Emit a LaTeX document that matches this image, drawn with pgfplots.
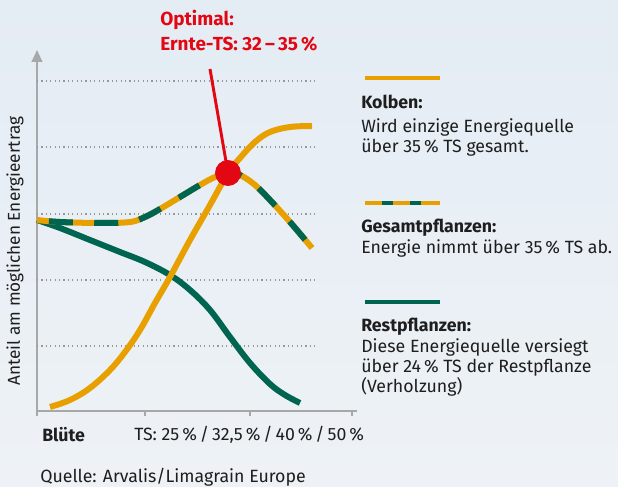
\documentclass[border=0pt]{standalone}
\usepackage{fontspec}
\setmainfont{Fira Sans}
\usepackage{pgfplots}
\pgfplotsset{compat=1.18}
\usetikzlibrary{arrows.meta}
\definecolor{korange}{HTML}{E8A000}
\definecolor{kgreen}{HTML}{006550}
\definecolor{kred}{HTML}{E30613}
\definecolor{axgray}{HTML}{A8A8A8}
\definecolor{txt}{HTML}{1E1E1E}
\definecolor{bgtop}{HTML}{E4ECF4}
\definecolor{bgbot}{HTML}{EEF2F6}
\begin{document}
\begin{tikzpicture}[x=0.75pt,y=0.75pt]
\fill[top color=bgtop,bottom color=bgbot] (0,0) rectangle (618,486);
\begin{axis}[at={(37,75)}, anchor=south west, scale only axis,
  width=240pt, height=270.75pt,
  xmin=37, xmax=357, ymin=0, ymax=361,
  axis x line=bottom, axis y line=left,
  x axis line style={-, draw=axgray, line width=1.5pt},
  y axis line style={-{Triangle[width=8pt,length=9pt]}, draw=axgray, line width=1.5pt},
  xtick={37,145,250,352}, xticklabels={},
  ytick=\empty,
  tick align=outside, major tick length=4pt,
  every tick/.style={draw=axgray, line width=1.5pt},
  clip=false]
  % grid lines
  \foreach \g in {65,131,197,264,330}{
    \edef\temp{\noexpand\draw[axgray!90!black, line width=0.9pt, dash pattern=on 0.9pt off 2.4pt] (axis cs:37,\g) -- (axis cs:316,\g);}
    \temp
  }
  % Restpflanzen
  \addplot[kgreen, line width=4.5pt, smooth, tension=0.6] coordinates {
    (37,191)(60,183)(90,171)(120,159)(145,149)(170,136)(190,121)(210,101)(230,74)(250,48)(270,27)(285,16)(300,8)};
  % Gesamtpflanzen
  \addplot[korange, line width=4.5pt, smooth, tension=0.6] coordinates {
    (37,191)(60,189)(100,188)(130,189)(145,194)(160,202)(180,214)(200,226)(215,234)(228,238)(240,236)(255,226)(270,211)(290,189)(312,163)};
  \addplot[kgreen, line width=4.5pt, smooth, tension=0.6, dash pattern=on 18pt off 16pt, dash phase=25pt] coordinates {
    (37,191)(60,189)(100,188)(130,189)(145,194)(160,202)(180,214)(200,226)(215,234)(228,238)(240,236)(255,226)(270,211)(290,189)(312,163)};
  % Kolben
  \addplot[korange, line width=4.5pt, smooth, tension=0.6] coordinates {
    (50,4)(70,11)(90,23)(110,41)(125,59)(140,81)(155,108)(170,134)(190,171)(210,206)(228,238)(240,253)(255,269)(270,279)(290,284)(312,285)};
  % optimum
  \addplot[kred, line width=2.2pt] coordinates {(210,342)(228,238)};
  \addplot[kred, only marks, mark=*, mark size=9.5pt, mark options={fill=kred, draw=kred}] coordinates {(228,238)};
\end{axis}
% red title
\node[anchor=west, text=kred, font=\bfseries\fontsize{14.2}{16}\selectfont, inner sep=0pt] at (160,466) {Optimal:};
\node[anchor=west, text=kred, font=\bfseries\fontsize{14.2}{16}\selectfont, inner sep=0pt] at (160,442) {Ernte-TS: 32\,–\,35\,\%};
% y label
\node[rotate=90, text=txt, font=\fontsize{12.9}{14}\selectfont, inner sep=0pt] at (15,235) {Anteil am möglichen Energieertrag};
% x labels
\node[anchor=west, text=txt, font=\bfseries\fontsize{13.3}{15}\selectfont, inner sep=0pt] at (42,51) {Blüte};
\node[anchor=west, text=txt, font=\fontsize{13.3}{15}\selectfont, inner sep=0pt] at (134,51) {TS: 25\,\%\,/\,32,5\,\%\,/\,40\,\%\,/\,50\,\%};
\node[anchor=west, text=txt, font=\fontsize{13.3}{15}\selectfont, inner sep=0pt] at (40,9) {Quelle: Arvalis/Limagrain Europe};
% legend
\draw[korange, line width=3.6pt] (365,408) -- (440,408);
\node[anchor=west, text=txt, font=\bfseries\fontsize{13.3}{15}\selectfont, inner sep=0pt] at (361,384) {Kolben:};
\node[anchor=north west, text=txt, align=left, font=\fontsize{13.3}{15}\selectfont, inner sep=0pt] at (361,368) {Wird einzige Energiequelle\\über 35\,\% TS gesamt.};
\draw[korange, line width=3.6pt] (365,283) -- (440,283);
\draw[kgreen, line width=3.6pt] (382,283) -- (393,283) (410,283) -- (421,283);
\node[anchor=west, text=txt, font=\bfseries\fontsize{13.3}{15}\selectfont, inner sep=0pt] at (361,258) {Gesamtpflanzen:};
\node[anchor=north west, text=txt, align=left, font=\fontsize{13.3}{15}\selectfont, inner sep=0pt] at (361,247) {Energie nimmt über 35\,\% TS ab.};
\draw[korange, line width=3.6pt] (365,184) -- (440,184);
\draw[kgreen, line width=3.6pt] (365,184) -- (440,184);
\node[anchor=west, text=txt, font=\bfseries\fontsize{13.3}{15}\selectfont, inner sep=0pt] at (361,159) {Restpflanzen:};
\node[anchor=north west, text=txt, align=left, font=\fontsize{13.3}{15}\selectfont, inner sep=0pt] at (361,148) {Diese Energiequelle versiegt\\über 24\,\% TS der Restpflanze\\(Verholzung)};
\pgfresetboundingbox
\useasboundingbox (0,0) rectangle (618,486);
\end{tikzpicture}
\end{document}
